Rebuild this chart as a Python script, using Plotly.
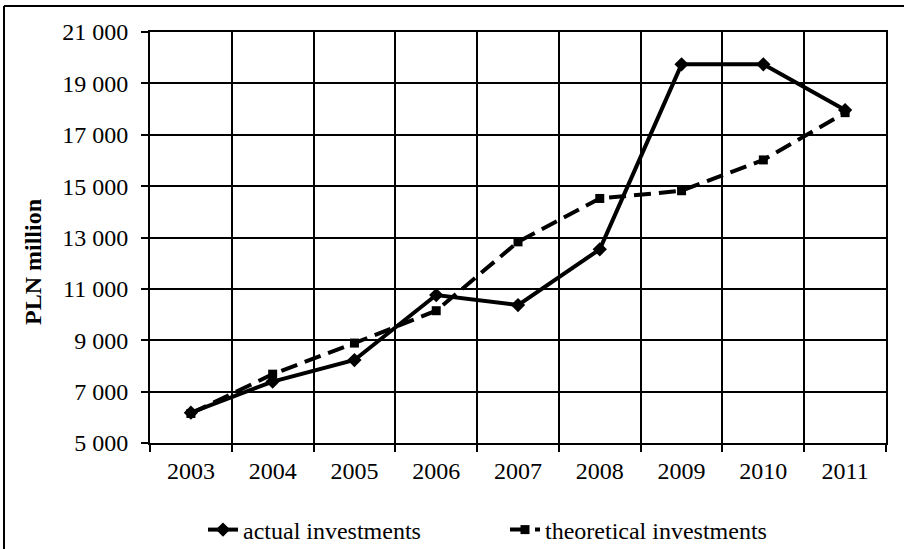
import plotly.graph_objects as go

years = ["2003", "2004", "2005", "2006", "2007", "2008", "2009", "2010", "2011"]
actual = [6180, 7390, 8230, 10760, 10370, 12540, 19740, 19740, 17960]
theoretical = [6150, 7680, 8890, 10150, 12830, 14520, 14820, 16020, 17860]
y_ticks = [5000, 7000, 9000, 11000, 13000, 15000, 17000, 19000, 21000]

FONT = "Liberation Serif, Times New Roman, serif"
FS = 24

W, H = 904, 549
ML, MR, MT, MB = 150, 18, 32, 106
PW, PH = W - ML - MR, H - MT - MB

def px_to_paper_x(px):
    return (px - ML) / PW

def px_to_paper_y(py):
    return (H - MB - py) / PH

fig = go.Figure()
fig.add_trace(go.Scatter(
    x=years, y=actual, name="actual investments", mode="lines+markers",
    line=dict(color="black", width=4),
    marker=dict(symbol="diamond", size=11, color="black"),
))
fig.add_trace(go.Scatter(
    x=years, y=theoretical, name="theoretical investments", mode="lines+markers",
    line=dict(color="black", width=4, dash="17px,8px"),
    marker=dict(symbol="square", size=9, color="black"),
))

fig.update_layout(
    width=W, height=H,
    margin=dict(l=ML, r=MR, t=MT, b=MB, pad=0, autoexpand=False),
    paper_bgcolor="white", plot_bgcolor="white",
    font=dict(family=FONT, size=FS, color="black"),
    separators=". ",
    showlegend=True,
    legend=dict(
        orientation="h", xref="container", yref="container",
        x=203 / W, xanchor="left",
        y=(H - 530) / H, yanchor="middle",
        font=dict(size=FS), bgcolor="rgba(0,0,0,0)",
        itemwidth=30, entrywidth=257, entrywidthmode="pixels",
    ),
    xaxis=dict(
        type="category", range=[-0.5, 8.5], tickson="boundaries",
        showgrid=True, gridcolor="black", gridwidth=2,
        showline=True, linecolor="black", linewidth=2, mirror=True,
        ticks="outside", ticklen=7, tickwidth=2, tickcolor="black",
        tickfont=dict(size=FS), ticklabelstandoff=5,
        fixedrange=True, automargin=False,
    ),
    yaxis=dict(
        range=[5000, 21000], tickvals=y_ticks, tickformat=",d",
        showgrid=True, gridcolor="black", gridwidth=2, zeroline=False,
        showline=True, linecolor="black", linewidth=2, mirror=True,
        ticks="outside", ticklen=7, tickwidth=2, tickcolor="black",
        tickfont=dict(size=FS), ticklabelstandoff=8, fixedrange=True,
        automargin=False,
    ),
    annotations=[dict(
        text="<b>PLN million</b>", textangle=-90,
        xref="paper", yref="paper", x=px_to_paper_x(33), y=px_to_paper_y(262),
        xanchor="center", yanchor="middle", showarrow=False,
        font=dict(family=FONT, size=FS, color="black"),
    )],
    shapes=[
        dict(type="line", xref="paper", yref="paper",
             x0=px_to_paper_x(4), x1=px_to_paper_x(W + 2),
             y0=px_to_paper_y(6), y1=px_to_paper_y(6),
             line=dict(color="black", width=2)),
        dict(type="line", xref="paper", yref="paper",
             x0=px_to_paper_x(4), x1=px_to_paper_x(4),
             y0=px_to_paper_y(6), y1=px_to_paper_y(H + 2),
             line=dict(color="black", width=2)),
    ],
)

fig.write_html("out.html", config={"displayModeBar": False},
               post_script="document.body.style.margin='0';")
